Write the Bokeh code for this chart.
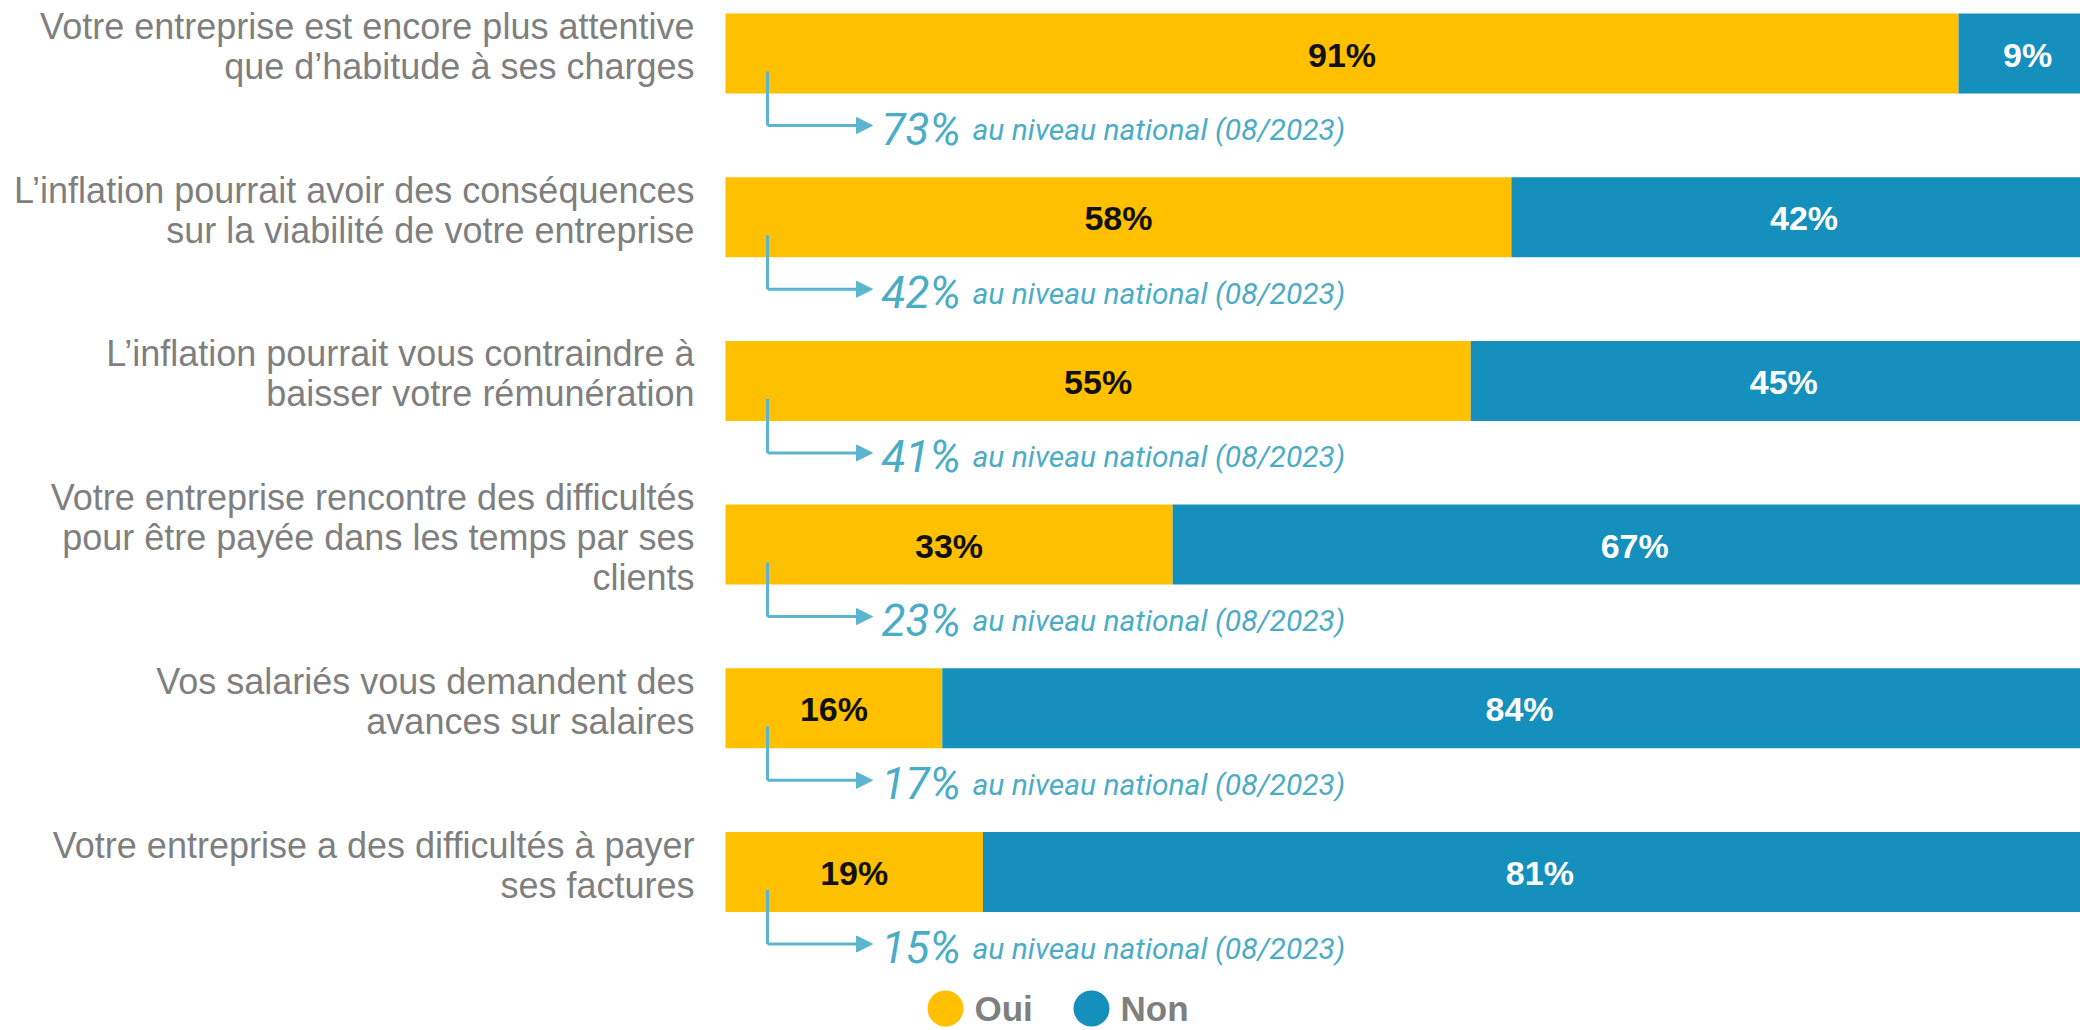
from bokeh.plotting import figure
from bokeh.models import Range1d, ColumnDataSource, Arrow, NormalHead
from bokeh.core.properties import value
from bokeh.embed import file_html
from bokeh.resources import INLINE

# ---- data -------------------------------------------------------------
statements = [
    "Votre entreprise est encore plus attentive\nque d’habitude à ses charges",
    "L’inflation pourrait avoir des conséquences\nsur la viabilité de votre entreprise",
    "L’inflation pourrait vous contraindre à\nbaisser votre rémunération",
    "Votre entreprise rencontre des difficultés\npour être payée dans les temps par ses\nclients",
    "Vos salariés vous demandent des\navances sur salaires",
    "Votre entreprise a des difficultés à payer\nses factures",
]
oui = [91, 58, 55, 33, 16, 19]
non = [9, 42, 45, 67, 84, 81]
national = [73, 42, 41, 23, 17, 15]
series_names = ["Oui", "Non"]
national_note = "au niveau national (08/2023)"

# ---- styling ----------------------------------------------------------
YELLOW = "#FFC000"
BLUE = "#1590BD"
TEAL = "#4BACC6"
ARROW = "#5BB5D0"
GREY = "#7F7F7F"
FONT = "Liberation Sans"

W, H = 2080, 1030
BAR_X0 = 725                      # canvas pixel where 0 % sits
PX_PER_PCT = (W - BAR_X0) / 100.0
ROW0, ROW_STEP = 53.0, 163.7      # centre of first row and row pitch (px)
BAR_H = 80.0


def px_x(px):
    return (px - BAR_X0) / PX_PER_PCT


def px_y(px):
    return (px - ROW0) / ROW_STEP


def dy(px):
    return px / ROW_STEP


p = figure(
    width=W, height=H,
    x_range=Range1d(px_x(0), 100),
    y_range=Range1d(px_y(H), px_y(0)),
    x_axis_type=None, y_axis_type=None,
    toolbar_location=None, output_backend="svg",
    min_border=0, outline_line_color=None,
    background_fill_color="white", border_fill_color="white",
)

rows = list(range(len(statements)))
total = [a + b for a, b in zip(oui, non)]
bars = ColumnDataSource(dict(row=rows, oui=oui, non=non, total=total))

# stacked bars
p.hbar(y="row", left=0, right="oui", height=dy(BAR_H), source=bars,
       fill_color=YELLOW, line_color=None)
p.hbar(y="row", left="oui", right="total", height=dy(BAR_H), source=bars,
       fill_color=BLUE, line_color=None)

# values inside the segments
vals = ColumnDataSource(dict(
    x=[v / 2 for v in oui] + [a + b / 2 + 0.6 for a, b in zip(oui, non)],
    y=[r + dy(1) for r in rows] * 2,
    t=[f"{v}%" for v in oui] + [f"{v}%" for v in non],
    c=["#111111"] * len(oui) + ["white"] * len(non),
))
p.text(x="x", y="y", text="t", source=vals, text_color="c",
       text_font=value(FONT), text_font_style="bold", text_font_size="34px",
       text_align="center", text_baseline="alphabetic")

# statement labels, one text per line
lx, ly, lt = [], [], []
for r, s in zip(rows, statements):
    lines = s.split("\n")
    n = len(lines)
    for k, line in enumerate(lines):
        lx.append(px_x(694))
        ly.append(r + dy(-7 + (k - (n - 1) / 2) * 40))
        lt.append(line)
p.text(x=lx, y=ly, text=lt, text_color=GREY, text_font=value(FONT),
       text_font_size="36px", text_align="right", text_baseline="alphabetic")

# national comparison: elbow arrow + italic note
elbow_x = px_x(767)
arrow_dy = dy(72)
p.multi_line(
    xs=[[elbow_x, elbow_x] for _ in rows],
    ys=[[r + dy(18), r + arrow_dy] for r in rows],
    line_color=ARROW, line_width=3,
)
arr_src = ColumnDataSource(dict(
    x0=[elbow_x] * len(rows), x1=[px_x(872)] * len(rows),
    y=[r + arrow_dy for r in rows],
))
p.add_layout(Arrow(
    x_start="x0", y_start="y", x_end="x1", y_end="y", source=arr_src,
    line_color=ARROW, line_width=3,
    end=NormalHead(size=16, fill_color=ARROW, line_color=ARROW, line_width=1),
))
p.text(x=[px_x(881)] * len(rows), y=[r + arrow_dy + dy(4) for r in rows],
       text=[f"{v}%" for v in national], text_color=TEAL,
       text_font=value("Roboto"), text_font_style="italic",
       text_font_size="44px", text_baseline="alphabetic")
p.text(x=[px_x(972)] * len(rows), y=[r + arrow_dy + dy(4) for r in rows],
       text=[national_note] * len(rows), text_color=TEAL,
       text_font=value("Roboto"), text_font_style="italic",
       text_font_size="30px", text_baseline="alphabetic")

# legend
p.scatter(x=[px_x(945), px_x(1091)], y=[px_y(1008)] * 2, size=36,
          marker="circle", fill_color=[YELLOW, BLUE], line_color=None)
p.text(x=[px_x(974), px_x(1120)], y=[px_y(1008)] * 2, text=series_names,
       text_color=GREY, text_font=value(FONT), text_font_style="bold",
       text_font_size="35px", text_baseline="middle")

open("out.html", "w").write(file_html(p, INLINE))
